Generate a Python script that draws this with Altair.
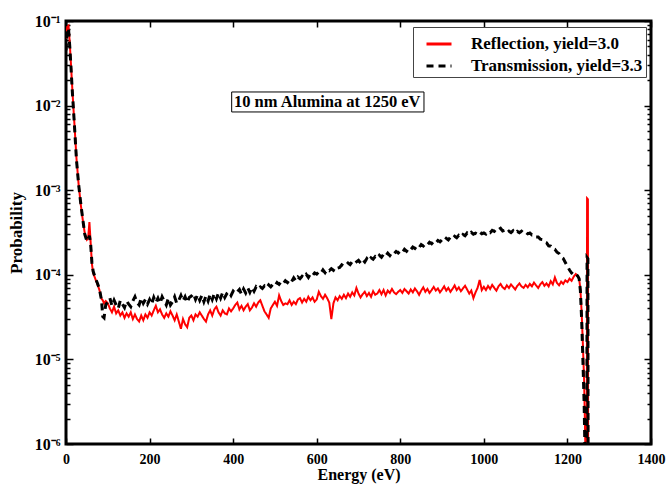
import altair as alt
import pandas as pd

FONT = "Liberation Serif"
series_names = ["Reflection, yield=3.0", "Transmission, yield=3.3"]

# ---- low-energy part (eV, probability) ----
energy_low = [0, 3, 6, 9, 12, 15, 18, 21, 25, 30, 35, 40, 45, 50, 53, 56, 59, 62, 65, 70, 75, 80, 85, 88, 91, 95]
refl_low = [0.062, 0.085, 0.088, 0.055, 0.030, 0.016, 0.0090, 0.0052, 0.0024, 0.0012, 7.0e-4, 4.5e-4, 3.1e-4,
            2.6e-4, 2.7e-4, 4.2e-4, 2.4e-4, 1.35e-4, 1.05e-4, 9.0e-5, 7.8e-5, 6.6e-5, 5.2e-5, 5.0e-5, 4.6e-5, 4.9e-5]
trans_low = [0.045, 0.080, 0.082, 0.050, 0.028, 0.015, 0.0088, 0.0050, 0.0023, 0.0012, 7.2e-4, 4.6e-4, 3.0e-4,
             2.5e-4, 2.6e-4, 2.9e-4, 2.3e-4, 1.4e-4, 1.1e-4, 9.2e-5, 8.0e-5, 6.8e-5, 5.0e-5, 3.2e-5, 3.1e-5, 4.4e-5]

# ---- plateau, 100..1225 eV every 5 eV, values in units of 1e-5 ----
energy_mid = list(range(100, 1230, 5))
refl_mid = [
    4.6, 4.0, 3.6, 4.2, 3.5, 3.8, 3.3, 3.6, 3.1, 3.5, 3.2, 3.6, 3.0, 3.4, 3.0, 2.8, 3.3, 2.9, 3.4, 3.1,
    3.6, 3.3, 3.8, 4.3, 3.6, 3.9, 3.4, 3.1, 3.5, 3.2, 3.7, 3.3, 2.9, 3.4, 2.8, 2.3, 3.0, 2.6, 2.4, 3.1,
    3.3, 2.9, 3.4, 3.2, 3.6, 3.3, 3.0, 2.8, 3.4, 3.8, 3.3, 3.9, 4.2, 3.6, 3.3, 3.8, 3.5, 3.4, 4.0, 3.7,
    4.0, 4.4, 4.7, 3.9, 4.3, 3.8, 4.2, 4.5, 3.8, 4.1, 4.6, 4.2, 4.7, 5.0, 4.3, 3.7, 3.4, 3.1, 4.0, 4.4,
    4.8, 4.3, 5.7, 4.9, 4.4, 4.6, 4.5, 5.0, 4.4, 4.8, 4.5, 5.1, 5.3, 4.7, 5.2, 4.8, 5.5, 5.0, 5.4, 4.8,
    5.1, 6.3, 5.6, 5.2, 5.8, 5.3, 4.7, 3.0, 4.6, 5.4, 5.0, 5.6, 5.2, 5.8, 5.3, 6.0, 5.5, 6.2, 5.7, 7.0,
    6.0, 5.4, 5.9, 6.3, 5.6, 6.1, 5.5, 6.4, 5.8, 6.0, 6.6, 5.9, 6.6, 5.7, 6.5, 6.1, 6.8, 6.2, 5.9, 6.3,
    6.6, 6.1, 6.8, 6.4, 6.0, 6.7, 6.2, 6.9, 6.4, 5.8, 6.5, 7.1, 6.3, 6.8, 6.1, 6.6, 7.2, 6.5, 6.9, 6.2,
    6.7, 7.3, 6.5, 7.0, 6.3, 6.8, 7.5, 6.6, 7.1, 6.4, 6.9, 7.4, 6.7, 6.0, 6.5, 5.3, 6.2, 7.0, 8.7, 6.6,
    7.2, 6.6, 7.4, 6.8, 7.6, 7.0, 6.5, 7.3, 7.8, 7.1, 6.8, 7.5, 7.0, 7.7, 7.2, 6.7, 7.4, 7.9, 7.3, 7.0,
    7.6, 7.1, 7.8, 7.3, 8.1, 7.5, 7.0, 7.7, 8.2, 7.4, 7.9, 7.3, 8.4, 7.7, 9.3, 8.0, 7.5, 8.3, 7.8, 8.6,
    8.2, 9.0, 8.5, 9.5, 10.2, 9.6,
]
trans_mid = [
    4.8, 5.3, 4.3, 5.0, 4.4, 4.0, 5.0, 4.5, 4.1, 4.9, 4.5, 4.2, 4.9, 5.5, 4.7, 4.4, 5.3, 4.6, 5.1, 4.5,
    5.1, 4.5, 5.4, 4.7, 5.3, 4.6, 5.5, 4.9, 4.4, 5.3, 4.4, 4.8, 5.5, 4.6, 5.0, 5.7, 4.9, 5.5, 4.7, 5.4,
    5.6, 6.0, 5.1, 5.8, 5.0, 5.7, 4.8, 5.6, 4.9, 5.9, 5.1, 6.0, 5.2, 6.1, 5.3, 6.2, 5.4, 6.0, 6.3, 5.7,
    6.4, 6.0, 6.3, 6.7, 5.9, 6.8, 6.1, 7.0, 6.2, 7.1, 6.4, 7.2, 6.8, 7.2, 6.9, 7.4, 7.0, 7.6, 7.2, 7.7,
    7.4, 8.1, 7.7, 8.3, 7.9, 8.5, 8.1, 8.8, 8.3, 9.2, 8.5, 9.4, 9.0, 9.6, 9.2, 10.1, 9.3, 10.3, 9.8, 10.5,
    10.2, 10.8, 10.4, 11.4, 10.6, 11.6, 11.2, 11.8, 11.3, 12.4, 12.0, 12.2, 13.1, 12.6, 12.9, 13.8, 13.2, 14.3, 13.6, 14.2,
    14.8, 13.8, 15.1, 14.2, 15.6, 14.6, 15.9, 15.3, 16.4, 15.7, 17.0, 16.1, 17.5, 16.6, 18.0, 16.9, 18.4, 17.8, 18.9, 18.1,
    19.2, 18.4, 20.0, 19.0, 20.6, 19.8, 21.3, 20.5, 22.0, 21.0, 22.8, 21.9, 23.4, 22.6, 24.2, 23.3, 24.8, 23.8, 25.4, 24.5,
    26.0, 25.0, 27.0, 25.8, 27.8, 26.8, 28.5, 27.4, 29.3, 28.0, 30.0, 29.0, 31.2, 29.8, 31.8, 30.2, 31.0, 30.0, 32.0, 30.6,
    31.2, 30.2, 32.3, 31.5, 33.5, 32.6, 35.0, 34.0, 35.5, 33.0, 33.6, 31.4, 32.8, 31.6, 33.2, 31.0, 32.6, 31.5, 32.8, 31.0,
    32.0, 30.5, 31.2, 29.6, 29.8, 28.0, 28.0, 26.4, 26.2, 24.3, 23.9, 22.0, 21.8, 20.2, 20.0, 18.5, 17.8, 16.3, 15.6, 14.0,
    12.6, 11.4, 10.5, 10.0, 10.3, 9.6,
]

# ---- cut-off and elastic peak ----
energy_high = [1228, 1231, 1234, 1237, 1240, 1243, 1246, 1247, 1249, 1250]
refl_high = [9.0e-5, 6.8e-5, 3.6e-5, 1.5e-5, 5.5e-6, 9e-7, 1e-9, 8.0e-4, 7.8e-4, 1e-9]
trans_high = [9.0e-5, 6.5e-5, 3.0e-5, 1.0e-5, 3.0e-6, 4e-7, 1e-9, 1.6e-4, 1.55e-4, 1e-9]

energy = energy_low + energy_mid + energy_high
refl = refl_low + [v * 1e-5 for v in refl_mid] + refl_high
trans = trans_low + [v * 1e-5 for v in trans_mid] + trans_high

df_refl = pd.DataFrame({"E": energy, "P": refl, "series": series_names[0]})
df_trans = pd.DataFrame({"E": energy, "P": trans, "series": series_names[1]})

x_ticks = [0, 200, 400, 600, 800, 1000, 1200, 1400]
y_ticks = [1e-6, 1e-5, 1e-4, 1e-3, 1e-2, 1e-1]
y_minor = [m * 10.0 ** e for e in range(-6, -1) for m in range(2, 10)]

note_text = "10 nm Alumina at 1250 eV"
note_pos = {"x": 402, "y": 0.0110}
note_box = {"x": 396.5, "x2": 856.7, "y": 0.01449, "y2": 0.00841}

xscale = alt.Scale(domain=[0, 1400], nice=False, zero=False)
yscale = alt.Scale(type="log", domain=[1e-6, 1e-1], nice=False)

label_expr = "['10\u207b\u2076','10\u207b\u2075','10\u207b\u2074','10\u207b\u00b3','10\u207b\u00b2','10\u207b\u00b9'][round(log(datum.value)/LN10)+6]"

common = dict(grid=False, domain=False, tickColor="black", tickWidth=1.5, labelFlush=False,
              labelFont=FONT, labelFontWeight="bold", labelColor="black",
              titleFont=FONT, titleFontWeight="bold", titleColor="black")

x_main = alt.Axis(orient="bottom", values=x_ticks, format="d", title="Energy (eV)",
                  tickSize=6, offset=-6, labelFontSize=14, labelPadding=8, labelOverlap=False,
                  titleFontSize=16, titlePadding=0, **common)
y_main = alt.Axis(orient="left", values=y_ticks, labelExpr=label_expr, title="Probability",
                  tickSize=7, offset=-7, labelFontSize=16, labelPadding=6, labelOverlap=False,
                  titleFontSize=17, titlePadding=9, **common)

legend = alt.Legend(title=None, symbolStrokeWidth=3, symbolType="stroke", symbolSize=625)
color_enc = alt.Color("series:N", scale=alt.Scale(domain=series_names, range=["#ff0000", "#000000"]),
                      legend=legend)
dash_enc = alt.StrokeDash("series:N", scale=alt.Scale(domain=series_names, range=[[1, 0], [7, 5]]),
                          legend=legend)

refl_line = alt.Chart(df_refl).mark_line(clip=True, strokeWidth=2).encode(
    x=alt.X("E:Q", scale=xscale, axis=x_main),
    y=alt.Y("P:Q", scale=yscale, axis=y_main),
    color=color_enc, strokeDash=dash_enc,
)
trans_line = alt.Chart(df_trans).mark_line(clip=True, strokeWidth=3).encode(
    x=alt.X("E:Q", scale=xscale, axis=None),
    y=alt.Y("P:Q", scale=yscale, axis=None),
    color=color_enc, strokeDash=dash_enc,
)

mirror_major = alt.Chart(df_refl).mark_line(clip=True, opacity=0).encode(
    x=alt.X("E:Q", scale=xscale, axis=alt.Axis(orient="top", values=x_ticks, labels=False, title=None,
                                                tickSize=6, offset=-6, **common)),
    y=alt.Y("P:Q", scale=yscale, axis=alt.Axis(orient="right", values=y_ticks, labels=False, title=None,
                                                tickSize=7, offset=-7, **common)),
)
minor_left = alt.Chart(df_refl).mark_line(clip=True, opacity=0).encode(
    x=alt.X("E:Q", scale=xscale, axis=None),
    y=alt.Y("P:Q", scale=yscale, axis=alt.Axis(orient="left", values=y_minor, labels=False, title=None,
                                                tickSize=4, offset=-4, **common)),
)
minor_right = alt.Chart(df_refl).mark_line(clip=True, opacity=0).encode(
    x=alt.X("E:Q", scale=xscale, axis=None),
    y=alt.Y("P:Q", scale=yscale, axis=alt.Axis(orient="right", values=y_minor, labels=False, title=None,
                                                tickSize=4, offset=-4, **common)),
)

box_df = pd.DataFrame([note_box])
txt_df = pd.DataFrame([{"x": note_pos["x"], "y": note_pos["y"], "label": note_text}])
note_rect = alt.Chart(box_df).mark_rect(fill="white", stroke="black", strokeWidth=1).encode(
    x=alt.X("x:Q", scale=xscale, axis=None), x2="x2",
    y=alt.Y("y:Q", scale=yscale, axis=None), y2="y2",
)
note = alt.Chart(txt_df).mark_text(font=FONT, fontWeight="bold", fontSize=16.5, align="left",
                                   baseline="middle", color="black").encode(
    x=alt.X("x:Q", scale=xscale, axis=None),
    y=alt.Y("y:Q", scale=yscale, axis=None),
    text="label:N",
)

chart = alt.layer(refl_line, trans_line, mirror_major, minor_left, minor_right, note_rect, note).resolve_axis(
    x="independent", y="independent"
).properties(
    width=585, height=423, autosize=alt.AutoSizeParams(type="none"),
    padding={"left": 66, "top": 21, "right": 16, "bottom": 41},
).configure_view(
    stroke="black", strokeWidth=3
).configure_legend(
    orient="none", legendX=347, legendY=6, strokeColor="#444", fillColor="white", padding=3,
    symbolType="stroke", symbolSize=625, symbolStrokeWidth=3, symbolOffset=9,
    labelFont=FONT, labelFontWeight="bold", labelFontSize=17, labelColor="black",
    labelOffset=18, labelLimit=400, rowPadding=-2, cornerRadius=0,
)

chart.save("out.html", embed_options={"renderer": "svg", "actions": False})
